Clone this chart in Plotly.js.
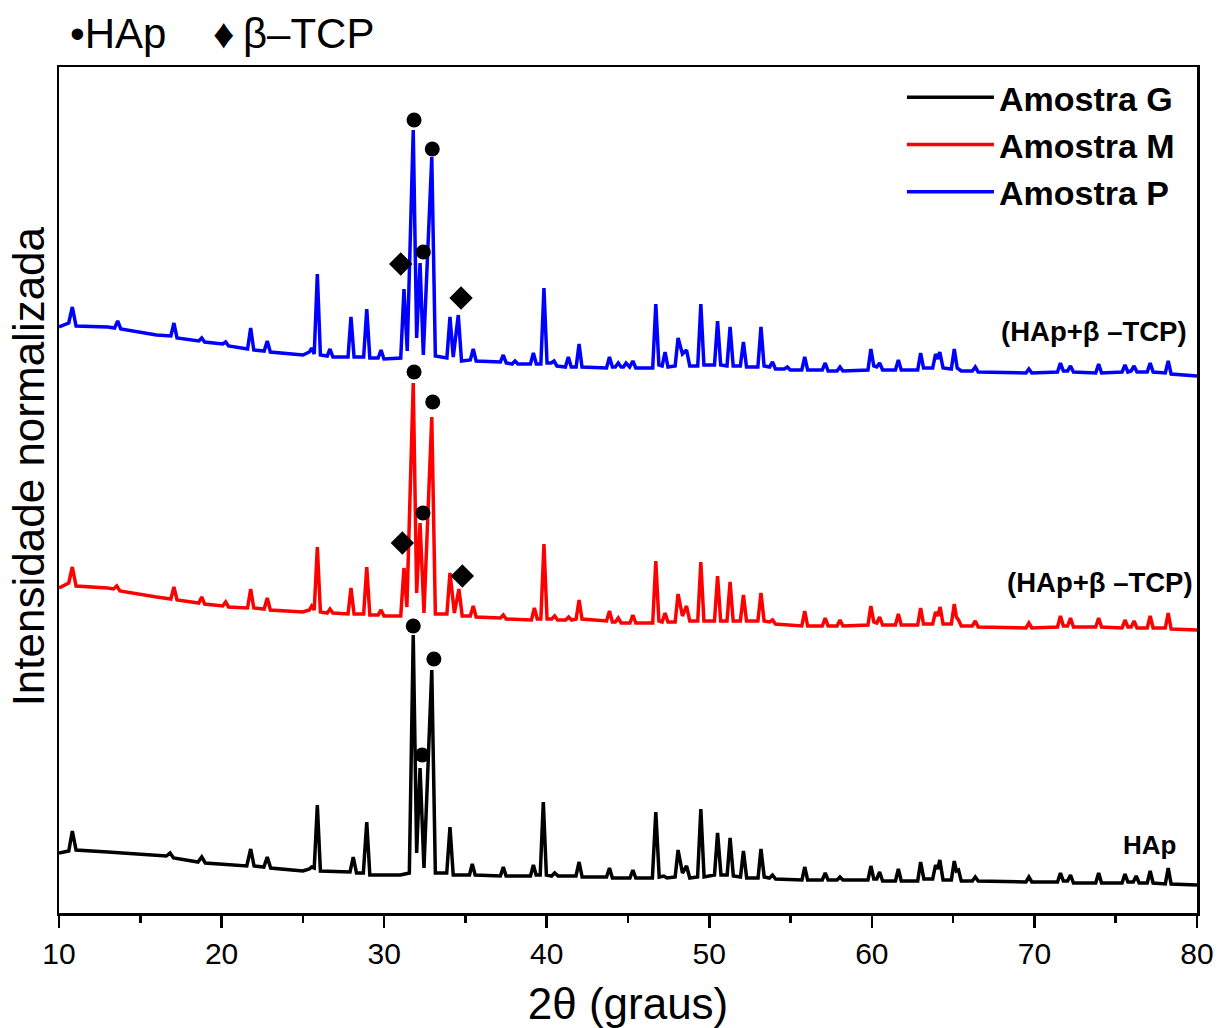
<!DOCTYPE html>
<html>
<head>
<meta charset="utf-8">
<script src="https://cdn.plot.ly/plotly-3.0.1.min.js"></script>
<style>html,body{margin:0;padding:0;background:#fff;}</style>
</head>
<body>
<div id="chart" style="width:1219px;height:1028px;"></div>
<script>
// Amostra G (HAp): [2theta, normalized intensity incl. stacking offset]
const gPts = [[10.00,60],[10.60,62],[10.82,82],[11.05,63],[13.00,61],[15.00,59],[16.60,57],[16.83,60],[17.05,55],[18.55,51],[18.78,56],[19.00,50],[21.55,47],[21.79,64],[22.00,47],[22.60,46],[22.81,56],[23.02,45],[25.00,42],[25.40,44],[25.54,46],[25.70,45],[25.89,108],[26.08,42],[27.90,41],[28.10,56],[28.30,40],[28.72,40],[28.93,91],[29.12,38],[31.00,38],[31.55,40],[31.79,278],[32.00,60],[32.21,145],[32.45,45],[32.93,243],[33.15,40],[33.85,40],[34.05,86],[34.25,38],[35.25,38],[35.42,49],[35.60,38],[37.15,37],[37.33,46],[37.50,37],[39.00,37],[39.18,48],[39.35,38],[39.60,38],[39.79,111],[39.98,38],[40.30,37],[40.49,40],[40.70,37],[41.80,37],[41.99,51],[42.18,36],[43.68,36],[43.86,45],[44.04,35],[45.12,35],[45.30,43],[45.48,35],[46.50,35],[46.71,101],[46.92,36],[47.20,37],[47.40,35],[47.90,36],[48.08,63],[48.35,40],[48.60,47],[48.80,35],[49.28,36],[49.48,104],[49.68,36],[50.32,38],[50.51,80],[50.72,38],[51.10,38],[51.28,75],[51.48,37],[51.92,36],[52.10,62],[52.30,35],[53.00,35],[53.18,64],[53.38,36],[53.70,35],[53.89,38],[54.08,34],[55.70,33],[55.87,46],[56.05,33],[56.95,33],[57.13,40],[57.31,33],[57.86,33],[58.04,36],[58.22,33],[59.76,33],[59.94,47],[60.12,34],[60.30,34],[60.48,41],[60.66,32],[61.45,32],[61.63,44],[61.81,32],[62.82,32],[63.00,51],[63.20,34],[63.74,34],[63.92,48],[64.05,44],[64.18,53],[64.38,33],[64.89,33],[65.07,52],[65.20,42],[65.33,43],[65.50,32],[66.18,32],[66.36,36],[66.54,32],[69.48,31],[69.66,36],[69.84,31],[71.42,31],[71.60,40],[71.78,32],[72.04,32],[72.22,38],[72.40,30],[73.77,30],[73.95,40],[74.13,30],[75.39,30],[75.57,39],[75.75,31],[76.08,31],[76.26,37],[76.44,30],[76.94,30],[77.12,42],[77.30,30],[78.05,29],[78.23,45],[78.41,29],[80.00,28]];

// Amostra M (HAp + beta-TCP)
const mPts = [[10.00,325],[10.60,330],[10.82,346],[11.05,327],[13.00,325],[13.35,324],[13.55,327],[13.75,322],[16.00,316],[16.88,314],[17.07,326],[17.26,313],[18.60,310],[18.78,316],[18.96,309],[20.07,307],[20.25,311],[20.43,306],[21.60,305],[21.79,324],[21.98,305],[22.62,304],[22.81,315],[23.00,303],[25.00,301],[25.40,303],[25.54,307],[25.70,303],[25.89,366],[26.08,301],[26.50,300],[26.67,304],[26.85,300],[27.78,299],[27.96,325],[28.15,299],[28.74,299],[28.93,346],[29.12,298],[29.63,298],[29.81,303],[29.99,297],[31.02,297],[31.22,345],[31.40,306],[31.79,530],[32.00,320],[32.21,390],[32.45,300],[32.93,496],[33.15,299],[33.86,299],[34.05,340],[34.32,300],[34.60,324],[34.80,297],[35.30,297],[35.48,307],[35.66,296],[37.15,295],[37.33,298],[37.51,294],[39.06,293],[39.24,305],[39.42,294],[39.64,294],[39.83,369],[40.02,294],[40.31,294],[40.49,297],[40.67,293],[41.17,293],[41.35,296],[41.53,293],[41.81,294],[41.99,313],[42.17,294],[43.68,292],[43.86,302],[44.04,291],[44.22,291],[44.40,295],[44.58,290],[45.12,290],[45.30,298],[45.48,290],[46.52,290],[46.71,352],[46.90,292],[47.10,291],[47.28,300],[47.46,291],[47.90,291],[48.08,319],[48.35,297],[48.60,307],[48.80,292],[49.29,292],[49.48,351],[49.67,292],[50.32,292],[50.51,337],[50.70,292],[51.09,292],[51.28,331],[51.47,292],[51.91,292],[52.10,318],[52.29,292],[52.99,292],[53.18,320],[53.37,292],[53.71,291],[53.89,293],[54.07,289],[55.69,287],[55.87,302],[56.05,287],[56.95,287],[57.13,295],[57.31,287],[57.86,287],[58.04,293],[58.22,287],[59.76,288],[59.94,307],[60.12,291],[60.30,290],[60.48,296],[60.66,288],[61.45,288],[61.63,299],[61.81,288],[62.82,288],[63.00,305],[63.18,289],[63.74,289],[63.92,301],[64.05,297],[64.20,306],[64.38,289],[64.89,289],[65.07,309],[65.20,296],[65.33,293],[65.50,287],[66.18,287],[66.36,292],[66.54,286],[69.48,285],[69.66,290],[69.84,285],[71.42,286],[71.60,297],[71.78,287],[72.04,287],[72.22,295],[72.40,286],[73.77,286],[73.95,295],[74.13,286],[75.39,285],[75.57,293],[75.75,286],[75.95,286],[76.13,292],[76.31,285],[76.94,285],[77.12,297],[77.30,285],[78.05,285],[78.23,300],[78.41,284],[80.00,283]];

// Amostra P (HAp + beta-TCP)
const pPts = [[10.00,586],[10.60,590],[10.82,606],[11.05,587],[13.00,586],[13.42,585],[13.61,592],[13.80,584],[16.00,578],[16.88,577],[17.07,590],[17.26,575],[18.60,572],[18.78,575],[18.96,571],[20.07,569],[20.25,571],[20.43,567],[21.60,564],[21.79,585],[21.98,563],[22.62,562],[22.81,572],[23.00,561],[25.00,558],[25.40,561],[25.54,565],[25.70,559],[25.89,639],[26.08,558],[26.50,557],[26.67,564],[26.85,556],[27.78,556],[27.96,596],[28.15,556],[28.74,556],[28.93,604],[29.12,555],[29.63,555],[29.81,563],[29.99,554],[31.02,555],[31.22,624],[31.42,562],[31.79,783],[32.00,575],[32.21,650],[32.41,558],[32.93,756],[33.15,557],[33.86,555],[34.05,596],[34.25,556],[34.56,598],[34.76,552],[35.30,553],[35.48,564],[35.66,552],[37.15,551],[37.33,558],[37.51,550],[37.87,549],[38.05,552],[38.23,549],[39.00,549],[39.18,560],[39.36,549],[39.64,549],[39.83,625],[40.02,550],[40.27,550],[40.45,552],[40.63,547],[41.15,546],[41.33,556],[41.51,546],[41.81,546],[41.99,569],[42.17,546],[43.68,545],[43.86,556],[44.04,546],[44.22,546],[44.40,550],[44.58,546],[44.72,546],[44.88,550],[45.10,546],[45.30,552],[45.48,545],[46.52,545],[46.71,609],[46.90,548],[47.10,547],[47.28,561],[47.46,546],[47.90,547],[48.08,575],[48.35,559],[48.60,563],[48.80,547],[49.29,547],[49.48,609],[49.67,548],[50.32,548],[50.51,592],[50.70,548],[51.09,547],[51.28,586],[51.47,547],[51.91,547],[52.10,571],[52.29,546],[52.99,546],[53.18,586],[53.37,547],[53.71,546],[53.89,551],[54.07,544],[54.62,544],[54.80,546],[54.98,543],[55.69,543],[55.87,556],[56.05,543],[56.95,543],[57.13,550],[57.31,542],[57.86,542],[58.04,546],[58.22,542],[59.76,543],[59.94,564],[60.12,547],[60.30,546],[60.48,550],[60.66,543],[61.45,543],[61.63,553],[61.81,543],[62.82,543],[63.00,560],[63.18,545],[63.74,545],[63.92,559],[64.05,554],[64.18,561],[64.38,545],[64.89,544],[65.07,564],[65.25,545],[65.50,542],[66.18,542],[66.36,546],[66.54,541],[69.48,540],[69.66,544],[69.84,540],[71.42,541],[71.60,550],[71.78,542],[72.04,542],[72.22,547],[72.40,541],[73.77,540],[73.95,549],[74.13,540],[75.39,541],[75.57,548],[75.75,541],[75.95,542],[76.13,547],[76.31,541],[76.94,541],[77.12,550],[77.30,541],[78.05,540],[78.23,552],[78.41,539],[80.00,537]];

// Phase markers: HAp (circles) and beta-TCP (diamonds)
const hapX = [31.79,33.06,32.34, 31.84,32.99,32.39, 31.84,32.96,32.41];
const hapY = [287,254,158, 541,511,400, 793,764,661];
const tcpX = [31.12,34.81, 31.02,34.73];
const tcpY = [370,337, 649,615];

const seriesNames = ['Amostra G','Amostra M','Amostra P'];
const seriesColors = ['#000000','#ff0000','#0000ff'];
const sampleLabels = ['HAp','(HAp+β \u2013TCP)','(HAp+β \u2013TCP)'];
const xTicks = [10,20,30,40,50,60,70,80];

const FONT = 'Liberation Sans, Arial, sans-serif';
const col = (pts, i) => pts.map(p => p[i]);
const series = [gPts, mPts, pPts];

const data = series.map((pts, i) => ({
  x: col(pts,0), y: col(pts,1), name: '<b>'+seriesNames[i]+'</b>', mode:'lines',
  line:{color:seriesColors[i], width:3.5}
}));
data.push({x:hapX, y:hapY, mode:'markers', showlegend:false, marker:{symbol:'circle', size:15, color:'#000'}});
data.push({x:tcpX, y:tcpY, mode:'markers', showlegend:false, marker:{symbol:'diamond', size:18, color:'#000'}});

const layout = {
  width:1219, height:1028,
  margin:{l:59, r:22, t:67, b:115},
  paper_bgcolor:'#fff', plot_bgcolor:'#fff',
  font:{family:FONT, color:'#000'},
  showlegend:true,
  legend:{x:0.985, xanchor:'right', y:0.998, yanchor:'top', bgcolor:'rgba(0,0,0,0)',
          font:{family:FONT, size:34, color:'#000'}, itemwidth:87, tracegroupgap:0},
  xaxis:{range:[10,80], tickvals:xTicks, ticktext:xTicks.map(String),
         ticks:'outside', ticklen:12, tickwidth:2.5, tickcolor:'#000',
         minor:{dtick:5, ticks:'outside', ticklen:7, tickwidth:2.5, tickcolor:'#000'},
         showline:true, linewidth:2.5, linecolor:'#000', mirror:true,
         showgrid:false, zeroline:false,
         tickfont:{family:FONT, size:30, color:'#000'}, ticklabelstandoff:0,
         title:{text:'2θ (graus)', font:{family:FONT, size:44, color:'#000'}, standoff:21}},
  yaxis:{range:[0,846], showticklabels:false, ticks:'', showgrid:false, zeroline:false,
         showline:true, linewidth:2.5, linecolor:'#000', mirror:true},
  annotations:[
    {xref:'paper', yref:'paper', x:-0.0272, y:0.528, xanchor:'center', yanchor:'middle', showarrow:false,
     textangle:-90, text:'Intensidade normalizada', font:{family:FONT, size:44, color:'#000'}},
    {xref:'paper', yref:'paper', x:0.008, y:1.04, xanchor:'left', yanchor:'middle', showarrow:false,
     text:'\u2022HAp\u00a0\u00a0\u00a0\u00a0\u2666\u2009β\u2013TCP', font:{family:FONT, size:42, color:'#000'}},
    {xref:'x', yref:'y', x:77.1, y:68, xanchor:'center', yanchor:'middle', showarrow:false,
     text:'<b>'+sampleLabels[0]+'</b>', font:{family:FONT, size:26, color:'#000'}},
    {xref:'x', yref:'y', x:79.85, y:331, xanchor:'right', yanchor:'middle', showarrow:false,
     text:'<b>'+sampleLabels[1]+'</b>', font:{family:FONT, size:27.5, color:'#000'}},
    {xref:'x', yref:'y', x:79.5, y:582, xanchor:'right', yanchor:'middle', showarrow:false,
     text:'<b>'+sampleLabels[2]+'</b>', font:{family:FONT, size:27.5, color:'#000'}}
  ]
};

Plotly.newPlot('chart', data, layout, {staticPlot:true, displayModeBar:false});
</script>
</body>
</html>
